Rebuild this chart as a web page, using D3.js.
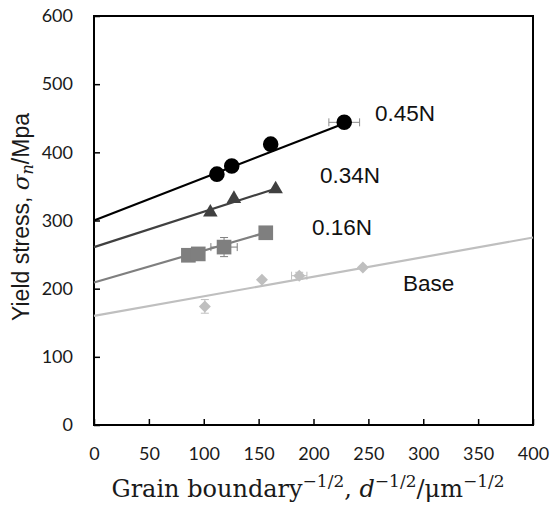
<!DOCTYPE html>
<html>
<head>
<meta charset="utf-8">
<script src="https://cdn.jsdelivr.net/npm/d3@7"></script>
<style>
  html, body { margin: 0; padding: 0; background: #fff; }
  svg { display: block; }
</style>
</head>
<body>
<div id="chart"></div>
<script>
// ---- data ----
const seriesNames = ["0.45N", "0.34N", "0.16N", "Base"];
const xVals45 = [112, 125.5, 161, 228];
const yVals45 = [368, 380, 412, 444];
const xErr45  = [0, 0, 0, 14];
const yErr45  = [0, 0, 0, 0];

const xVals34 = [106, 127.5, 165.5];
const yVals34 = [312, 332, 346];
const xErr34  = [0, 0, 0];
const yErr34  = [0, 0, 0];

const xVals16 = [86, 95, 118.5, 156.5];
const yVals16 = [249, 251, 261, 282];
const xErr16  = [5, 0, 12, 0];
const yErr16  = [0, 0, 14, 0];

const xValsBase = [101, 153, 187, 245];
const yValsBase = [174, 213, 219, 231];
const xErrBase  = [0, 0, 7, 0];
const yErrBase  = [10, 0, 5, 0];

// fitted trend lines (end points)
const fitX45 = [0, 232],  fitY45 = [300, 445];
const fitX34 = [0, 166],  fitY34 = [261, 347];
const fitX16 = [0, 158],  fitY16 = [209, 283];
const fitXBase = [0, 400], fitYBase = [160, 275];

const xTicks = [0, 50, 100, 150, 200, 250, 300, 350, 400];
const yTicks = [0, 100, 200, 300, 400, 500, 600];

// ---- chart ----
const W = 552, H = 507;
const svg = d3.select("#chart").append("svg").attr("width", W).attr("height", H);

const x = d3.scaleLinear().domain([0, 400]).range([94, 533]);
const y = d3.scaleLinear().domain([0, 600]).range([425, 16]);

const colors = ["#000000", "#404040", "#7f7f7f", "#bfbfbf"];
const symbols = [d3.symbolCircle, d3.symbolTriangle, d3.symbolSquare, d3.symbolSquare];
const sizes = [190, 92, 215, 72];
const rotations = [0, 0, 0, 45];

const series = [
  {name: seriesNames[0], xs: xVals45, ys: yVals45, xe: xErr45, ye: yErr45, fx: fitX45, fy: fitY45},
  {name: seriesNames[1], xs: xVals34, ys: yVals34, xe: xErr34, ye: yErr34, fx: fitX34, fy: fitY34},
  {name: seriesNames[2], xs: xVals16, ys: yVals16, xe: xErr16, ye: yErr16, fx: fitX16, fy: fitY16},
  {name: seriesNames[3], xs: xValsBase, ys: yValsBase, xe: xErrBase, ye: yErrBase, fx: fitXBase, fy: fitYBase}
];

// axes
const xAxis = d3.axisBottom(x).tickValues(xTicks).tickSizeInner(-6).tickSizeOuter(0).tickPadding(22);
const yAxis = d3.axisLeft(y).tickValues(yTicks).tickSizeInner(-6).tickSizeOuter(0).tickPadding(21);

const gx = svg.append("g").attr("transform", `translate(0,${y(0)})`).call(xAxis);
const gy = svg.append("g").attr("transform", `translate(${x(0)},0)`).call(yAxis);
[gx, gy].forEach(g => {
  g.select(".domain").remove();
  g.selectAll(".tick line").attr("stroke", "#000").attr("stroke-width", 1.5);
  g.selectAll(".tick text").attr("fill", "#1a1a1a")
    .style("font-family", "Lato, 'Open Sans', sans-serif").style("font-size", "18px");
});

// frame
svg.append("rect")
  .attr("x", x(0)).attr("y", y(600))
  .attr("width", x(400) - x(0)).attr("height", y(0) - y(600))
  .attr("fill", "none").attr("stroke", "#000").attr("stroke-width", 2);

// lines, error bars, markers
series.forEach((s, i) => {
  const c = colors[i];
  svg.append("line")
    .attr("x1", x(s.fx[0])).attr("y1", y(s.fy[0]))
    .attr("x2", x(s.fx[1])).attr("y2", y(s.fy[1]))
    .attr("stroke", c).attr("stroke-width", 2.2);

  const eg = svg.append("g").attr("stroke", i === 0 ? "#8c8c8c" : c).attr("stroke-width", 1);
  s.xs.forEach((xv, j) => {
    const yv = s.ys[j];
    if (s.xe[j] > 0) {
      const x1 = x(xv - s.xe[j]), x2 = x(xv + s.xe[j]), yy = y(yv);
      eg.append("line").attr("x1", x1).attr("x2", x2).attr("y1", yy).attr("y2", yy);
      eg.append("line").attr("x1", x1).attr("x2", x1).attr("y1", yy - 4).attr("y2", yy + 4);
      eg.append("line").attr("x1", x2).attr("x2", x2).attr("y1", yy - 4).attr("y2", yy + 4);
    }
    if (s.ye[j] > 0) {
      const y1 = y(yv - s.ye[j]), y2 = y(yv + s.ye[j]), xx = x(xv);
      eg.append("line").attr("x1", xx).attr("x2", xx).attr("y1", y1).attr("y2", y2);
      eg.append("line").attr("x1", xx - 4).attr("x2", xx + 4).attr("y1", y1).attr("y2", y1);
      eg.append("line").attr("x1", xx - 4).attr("x2", xx + 4).attr("y1", y2).attr("y2", y2);
    }
  });

  const sym = d3.symbol().type(symbols[i]).size(sizes[i]);
  svg.append("g").selectAll("path").data(s.xs).join("path")
    .attr("d", sym)
    .attr("transform", (d, j) => `translate(${x(d)},${y(s.ys[j])}) rotate(${rotations[i]})`)
    .attr("fill", c);
});

// series labels
const labelPos = [[375, 121], [320, 183], [312, 235], [403, 291]];
seriesNames.forEach((n, i) => {
  svg.append("text").attr("x", labelPos[i][0]).attr("y", labelPos[i][1])
    .text(n)
    .style("font-family", "'Liberation Sans', Arial, sans-serif")
    .style("font-size", "22.5px").attr("fill", "#111");
});

// y title
const yt = svg.append("text")
  .attr("transform", "translate(29,217) rotate(-90)")
  .attr("text-anchor", "middle")
  .style("font-family", "'Liberation Sans', Arial, sans-serif")
  .style("font-size", "23px").attr("fill", "#1a1a1a");
yt.append("tspan").text("Yield stress, ");
yt.append("tspan").text("σ").style("font-family", "'DejaVu Serif', serif").style("font-style", "italic");
yt.append("tspan").text("n").attr("baseline-shift", "-25%").style("font-size", "16px")
  .style("font-family", "'DejaVu Serif', serif").style("font-style", "italic");
yt.append("tspan").text("/Mpa");

// x title
const xt = svg.append("text")
  .attr("x", 308).attr("y", 497)
  .attr("text-anchor", "middle")
  .style("font-family", "'DejaVu Serif', serif")
  .style("font-size", "24px").attr("fill", "#1a1a1a");
xt.append("tspan").text("Grain boundary");
xt.append("tspan").text("−1/2").attr("baseline-shift", "super").style("font-size", "17px");
xt.append("tspan").text(", ");
xt.append("tspan").text("d").style("font-style", "italic");
xt.append("tspan").text("−1/2").attr("baseline-shift", "super").style("font-size", "17px");
xt.append("tspan").text("/μm");
xt.append("tspan").text("−1/2").attr("baseline-shift", "super").style("font-size", "17px");
</script>
</body>
</html>
